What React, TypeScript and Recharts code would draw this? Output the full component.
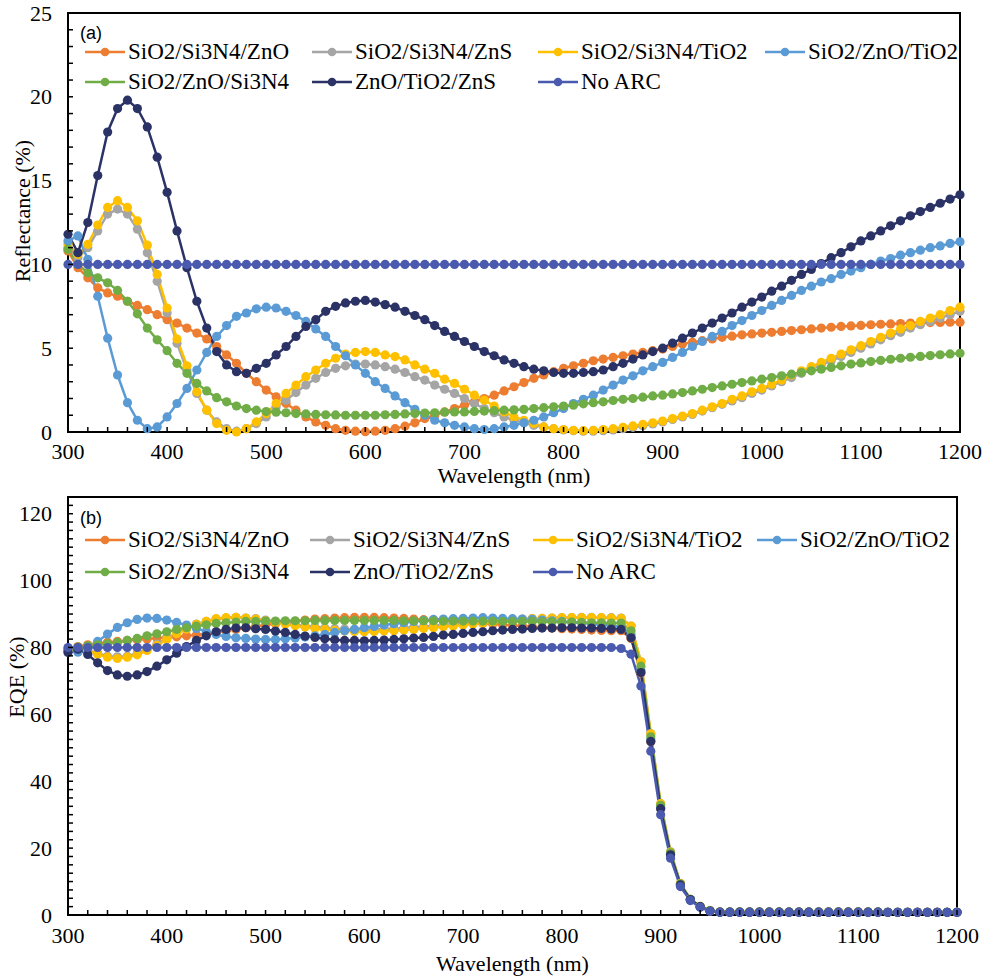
import React from "react";
import { LineChart, Line, XAxis, YAxis, Legend, ReferenceArea } from "recharts";

const wavelength = [
  300, 310, 320, 330, 340, 350, 360, 370, 380, 390,
  400, 410, 420, 430, 440, 450, 460, 470, 480, 490,
  500, 510, 520, 530, 540, 550, 560, 570, 580, 590,
  600, 610, 620, 630, 640, 650, 660, 670, 680, 690,
  700, 710, 720, 730, 740, 750, 760, 770, 780, 790,
  800, 810, 820, 830, 840, 850, 860, 870, 880, 890,
  900, 910, 920, 930, 940, 950, 960, 970, 980, 990,
  1000, 1010, 1020, 1030, 1040, 1050, 1060, 1070, 1080, 1090,
  1100, 1110, 1120, 1130, 1140, 1150, 1160, 1170, 1180, 1190,
  1200,
];

// (a) reflectance, %
const refSiO2Si3N4ZnO = [
  10.8, 9.8, 9.2, 8.6, 8.3, 8.1, 7.8, 7.55, 7.3, 7.0,
  6.7, 6.5, 6.2, 5.9, 5.55, 5.1, 4.6, 4.1, 3.5, 3.0,
  2.5, 2.1, 1.7, 1.3, 0.9, 0.6, 0.4, 0.2, 0.1, 0.05,
  0.02, 0.05, 0.1, 0.2, 0.35, 0.55, 0.8, 1.0, 1.2, 1.4,
  1.6, 1.8, 2.0, 2.2, 2.45, 2.7, 2.95, 3.2, 3.4, 3.6,
  3.8, 3.95, 4.1, 4.25, 4.35, 4.45, 4.55, 4.65, 4.75, 4.85,
  4.95, 5.1, 5.25, 5.35, 5.45, 5.55, 5.65, 5.72, 5.8, 5.85,
  5.9, 5.95, 6.0, 6.05, 6.1, 6.15, 6.2, 6.25, 6.3, 6.33,
  6.36, 6.4, 6.43, 6.45, 6.47, 6.5, 6.52, 6.53, 6.54, 6.55,
  6.55,
];
const refSiO2Si3N4ZnS = [
  11.0, 10.4, 11.0, 12.0, 13.0, 13.3, 13.0, 12.1, 10.7, 9.0,
  7.1, 5.3, 3.7, 2.3, 1.3, 0.6, 0.2, 0.05, 0.2, 0.5,
  0.9, 1.5, 1.9, 2.35, 2.8, 3.2, 3.55, 3.8, 3.95, 4.05,
  4.05, 4.0, 3.9, 3.75, 3.55, 3.3, 3.1, 2.8, 2.55, 2.3,
  2.0, 1.7, 1.4, 1.15, 0.9, 0.7, 0.55, 0.4, 0.3, 0.2,
  0.12, 0.08, 0.05, 0.05, 0.08, 0.12, 0.2, 0.28, 0.38, 0.48,
  0.6, 0.75, 0.9, 1.05, 1.25, 1.45, 1.65, 1.85, 2.05, 2.3,
  2.5, 2.75, 3.0, 3.25, 3.5, 3.75, 4.0, 4.25, 4.5, 4.75,
  5.0, 5.25, 5.5, 5.75, 5.95, 6.2, 6.4, 6.6, 6.8, 7.0,
  7.2,
];
const refSiO2Si3N4TiO2 = [
  11.2, 10.6, 11.2, 12.35, 13.4, 13.8, 13.4, 12.6, 11.15, 9.4,
  7.4, 5.55, 3.95, 2.4, 1.3, 0.5, 0.1, 0.0, 0.2, 0.6,
  1.1, 1.7, 2.3, 2.8, 3.3, 3.7, 4.1, 4.4, 4.65, 4.75,
  4.8, 4.75, 4.6, 4.5, 4.3, 4.0, 3.75, 3.5, 3.15, 2.9,
  2.55, 2.2, 1.9, 1.55, 1.2, 0.9, 0.7, 0.5, 0.3, 0.2,
  0.15, 0.1, 0.08, 0.1, 0.15, 0.2, 0.28, 0.36, 0.45, 0.55,
  0.65, 0.8, 0.95, 1.1, 1.3, 1.5, 1.7, 1.95, 2.15, 2.4,
  2.6, 2.85, 3.1, 3.4, 3.65, 3.9, 4.15, 4.4, 4.65, 4.9,
  5.15, 5.4, 5.65, 5.9, 6.15, 6.35, 6.6, 6.8, 7.0, 7.25,
  7.45,
];
const refSiO2ZnOTiO2 = [
  11.4, 11.7, 10.3, 8.1, 5.6, 3.4, 1.75, 0.7, 0.2, 0.3,
  0.9, 1.7, 2.6, 3.7, 4.75, 5.7, 6.35, 6.9, 7.1, 7.35,
  7.45, 7.4, 7.2, 6.95, 6.6, 6.15, 5.7, 5.1, 4.55, 4.0,
  3.5, 3.0, 2.6, 2.15, 1.75, 1.35, 1.0, 0.7, 0.55, 0.4,
  0.3, 0.2, 0.15, 0.2, 0.3, 0.4, 0.55, 0.7, 0.9, 1.15,
  1.4, 1.7, 1.95, 2.2, 2.5, 2.8, 3.1, 3.35, 3.65, 3.9,
  4.15, 4.45, 4.75, 5.1, 5.4, 5.7, 6.0, 6.35, 6.65, 6.95,
  7.25, 7.55, 7.85, 8.15, 8.45, 8.7, 8.95, 9.15, 9.4, 9.6,
  9.8, 10.0, 10.2, 10.35, 10.55, 10.7, 10.85, 11.0, 11.1, 11.25,
  11.35,
];
const refSiO2ZnOSi3N4 = [
  10.9, 10.0, 9.5, 9.2, 8.9, 8.45, 7.8, 7.05, 6.2, 5.5,
  4.85, 4.1, 3.5, 2.9, 2.45, 2.05, 1.8, 1.55, 1.4, 1.3,
  1.22, 1.18, 1.15, 1.1, 1.08, 1.05, 1.03, 1.02, 1.0, 1.0,
  1.0, 1.0, 1.03, 1.05, 1.08, 1.1, 1.13, 1.15, 1.18, 1.2,
  1.2, 1.23, 1.25, 1.27, 1.3, 1.32, 1.35, 1.4, 1.45, 1.5,
  1.55, 1.6, 1.68, 1.75, 1.8, 1.88, 1.95, 2.0, 2.08, 2.15,
  2.2, 2.27, 2.35, 2.45, 2.55, 2.65, 2.75, 2.85, 2.95, 3.05,
  3.15, 3.25, 3.35, 3.45, 3.55, 3.65, 3.75, 3.85, 3.95, 4.05,
  4.12, 4.2, 4.27, 4.34, 4.4, 4.46, 4.51, 4.56, 4.61, 4.66,
  4.7,
];
const refZnOTiO2ZnS = [
  11.8, 10.7, 12.5, 15.3, 17.9, 19.3, 19.8, 19.3, 18.2, 16.4,
  14.3, 12.0, 9.8, 7.8, 6.2, 4.8, 4.0, 3.6, 3.5, 3.8,
  4.1, 4.6, 5.1, 5.7, 6.3, 6.7, 7.2, 7.5, 7.7, 7.8,
  7.85, 7.75, 7.6, 7.45, 7.2, 6.95, 6.7, 6.35, 6.0, 5.7,
  5.4, 5.1, 4.8, 4.55, 4.3, 4.1, 3.9, 3.75, 3.65, 3.55,
  3.5, 3.5, 3.55, 3.6, 3.7, 3.9, 4.1, 4.35, 4.6, 4.8,
  5.0, 5.3, 5.6, 5.9, 6.2, 6.5, 6.8, 7.1, 7.45, 7.75,
  8.05, 8.4, 8.7, 9.05, 9.4, 9.7, 10.05, 10.4, 10.7, 11.05,
  11.4, 11.7, 12.0, 12.3, 12.6, 12.9, 13.15, 13.4, 13.65, 13.9,
  14.15,
];
const refNoArc = [
  10, 10, 10, 10, 10, 10, 10, 10, 10, 10,
  10, 10, 10, 10, 10, 10, 10, 10, 10, 10,
  10, 10, 10, 10, 10, 10, 10, 10, 10, 10,
  10, 10, 10, 10, 10, 10, 10, 10, 10, 10,
  10, 10, 10, 10, 10, 10, 10, 10, 10, 10,
  10, 10, 10, 10, 10, 10, 10, 10, 10, 10,
  10, 10, 10, 10, 10, 10, 10, 10, 10, 10,
  10, 10, 10, 10, 10, 10, 10, 10, 10, 10,
  10, 10, 10, 10, 10, 10, 10, 10, 10, 10,
  10,
];

// (b) EQE, %
const eqeSiO2Si3N4ZnO = [
  79.4, 80.3, 80.8, 81.3, 81.6, 81.8, 82.1, 82.3, 82.5, 82.8,
  83.0, 83.2, 83.5, 83.7, 84.1, 84.5, 84.9, 85.4, 85.9, 86.3,
  86.8, 87.1, 87.5, 87.8, 88.2, 88.5, 88.6, 88.8, 88.9, 89.0,
  89.0, 89.0, 88.9, 88.8, 88.7, 88.5, 88.3, 88.1, 87.9, 87.8,
  87.6, 87.4, 87.2, 87.0, 86.8, 86.6, 86.4, 86.2, 86.0, 85.8,
  85.6, 85.5, 85.4, 85.2, 85.1, 85.0, 85.0, 82.7, 72.4, 51.9,
  31.8, 18.0, 9.0, 4.5, 2.5, 1.2, 0.9, 0.9, 0.9, 0.9,
  0.9, 0.9, 0.9, 0.9, 0.9, 0.9, 0.9, 0.9, 0.9, 0.9,
  0.9, 0.9, 0.9, 0.8, 0.8, 0.8, 0.8, 0.8, 0.8, 0.8,
  0.8,
];
const eqeSiO2Si3N4ZnS = [
  79.2, 79.7, 79.2, 78.3, 77.4, 77.2, 77.4, 78.2, 79.5, 81.0,
  82.7, 84.3, 85.7, 87.0, 87.8, 88.5, 88.8, 89.0, 88.8, 88.6,
  88.2, 87.7, 87.3, 86.9, 86.5, 86.2, 85.8, 85.6, 85.5, 85.4,
  85.4, 85.4, 85.5, 85.7, 85.8, 86.1, 86.2, 86.5, 86.7, 87.0,
  87.2, 87.5, 87.8, 88.0, 88.2, 88.4, 88.5, 88.6, 88.7, 88.8,
  88.9, 88.9, 89.0, 89.0, 88.9, 88.9, 88.8, 86.4, 75.7, 54.2,
  33.3, 18.9, 9.4, 4.7, 2.6, 1.3, 0.9, 0.9, 0.9, 0.9,
  0.9, 0.9, 0.9, 0.9, 0.9, 0.9, 0.9, 0.9, 0.9, 0.9,
  0.9, 0.9, 0.9, 0.8, 0.8, 0.8, 0.8, 0.8, 0.8, 0.8,
  0.8,
];
const eqeSiO2Si3N4TiO2 = [
  79.0, 79.6, 79.0, 78.0, 77.1, 76.7, 77.1, 77.8, 79.1, 80.6,
  82.4, 84.1, 85.5, 86.9, 87.8, 88.6, 88.9, 89.0, 88.8, 88.5,
  88.0, 87.5, 87.0, 86.5, 86.1, 85.7, 85.4, 85.1, 84.9, 84.8,
  84.7, 84.8, 84.9, 85.0, 85.2, 85.4, 85.7, 85.9, 86.2, 86.4,
  86.7, 87.0, 87.3, 87.6, 87.9, 88.2, 88.4, 88.6, 88.7, 88.8,
  88.9, 88.9, 88.9, 88.9, 88.9, 88.8, 88.7, 86.4, 75.7, 54.2,
  33.3, 18.8, 9.4, 4.7, 2.6, 1.3, 0.9, 0.9, 0.9, 0.9,
  0.9, 0.9, 0.9, 0.9, 0.9, 0.9, 0.9, 0.9, 0.9, 0.9,
  0.9, 0.9, 0.9, 0.8, 0.8, 0.8, 0.8, 0.8, 0.8, 0.8,
  0.8,
];
const eqeSiO2ZnOTiO2 = [
  78.9, 78.6, 79.8, 81.8, 84.0, 86.0, 87.4, 88.4, 88.8, 88.7,
  88.2, 87.5, 86.7, 85.7, 84.8, 83.9, 83.3, 82.9, 82.7, 82.5,
  82.4, 82.4, 82.6, 82.8, 83.1, 83.5, 83.9, 84.5, 85.0, 85.4,
  85.9, 86.3, 86.7, 87.1, 87.4, 87.8, 88.1, 88.4, 88.5, 88.6,
  88.7, 88.8, 88.9, 88.8, 88.7, 88.6, 88.5, 88.4, 88.2, 88.0,
  87.8, 87.5, 87.3, 87.0, 86.8, 86.5, 86.2, 83.8, 73.2, 52.4,
  32.1, 18.2, 9.0, 4.6, 2.5, 1.2, 0.85, 0.85, 0.85, 0.85,
  0.85, 0.85, 0.85, 0.85, 0.85, 0.85, 0.85, 0.85, 0.85, 0.85,
  0.85, 0.85, 0.85, 0.8, 0.8, 0.8, 0.8, 0.8, 0.8, 0.8,
  0.8,
];
const eqeSiO2ZnOSi3N4 = [
  79.3, 80.1, 80.5, 80.8, 81.1, 81.5, 82.1, 82.7, 83.5, 84.1,
  84.7, 85.4, 85.9, 86.4, 86.8, 87.2, 87.4, 87.6, 87.8, 87.8,
  87.9, 87.9, 88.0, 88.0, 88.0, 88.1, 88.1, 88.1, 88.1, 88.1,
  88.1, 88.1, 88.1, 88.1, 88.0, 88.0, 88.0, 88.0, 87.9, 87.9,
  87.9, 87.9, 87.9, 87.9, 87.8, 87.8, 87.8, 87.8, 87.7, 87.7,
  87.6, 87.6, 87.5, 87.4, 87.4, 87.3, 87.3, 85.0, 74.4, 53.3,
  32.8, 18.6, 9.3, 4.7, 2.5, 1.3, 0.9, 0.9, 0.9, 0.9,
  0.9, 0.9, 0.9, 0.9, 0.9, 0.9, 0.9, 0.9, 0.9, 0.9,
  0.9, 0.9, 0.9, 0.8, 0.8, 0.8, 0.8, 0.8, 0.8, 0.8,
  0.8,
];
const eqeZnOTiO2ZnS = [
  78.5, 79.5, 77.9, 75.4, 73.1, 71.8, 71.4, 71.8, 72.8, 74.4,
  76.3, 78.3, 80.3, 82.1, 83.5, 84.7, 85.4, 85.8, 85.9, 85.6,
  85.4, 84.9, 84.5, 83.9, 83.4, 83.0, 82.6, 82.3, 82.1, 82.1,
  82.0, 82.1, 82.2, 82.4, 82.6, 82.8, 83.0, 83.3, 83.7, 83.9,
  84.2, 84.5, 84.7, 85.0, 85.2, 85.4, 85.5, 85.7, 85.8, 85.8,
  85.9, 85.9, 85.8, 85.8, 85.7, 85.5, 85.4, 82.9, 72.5, 51.9,
  31.8, 18.0, 9.0, 4.6, 2.5, 1.2, 0.85, 0.85, 0.85, 0.85,
  0.85, 0.85, 0.85, 0.85, 0.85, 0.85, 0.85, 0.85, 0.85, 0.85,
  0.85, 0.85, 0.85, 0.8, 0.8, 0.8, 0.8, 0.8, 0.8, 0.8,
  0.8,
];
const eqeNoArc = [
  80, 80, 80, 80, 80, 80, 80, 80, 80, 80,
  80, 80, 80, 80, 80, 80, 80, 80, 80, 80,
  80, 80, 80, 80, 80, 80, 80, 80, 80, 80,
  80, 80, 80, 80, 80, 80, 80, 80, 80, 80,
  80, 80, 80, 80, 80, 80, 80, 80, 80, 80,
  80, 80, 80, 80, 80, 80, 79.7, 78.0, 68.5, 49.0,
  30.0, 17.0, 8.5, 4.3, 2.3, 1.1, 0.8, 0.8, 0.8, 0.8,
  0.8, 0.8, 0.8, 0.8, 0.8, 0.8, 0.8, 0.8, 0.8, 0.8,
  0.8, 0.8, 0.8, 0.8, 0.8, 0.8, 0.8, 0.8, 0.8, 0.8,
  0.8,
];

const seriesNames = [
  "SiO2/Si3N4/ZnO",
  "SiO2/Si3N4/ZnS",
  "SiO2/Si3N4/TiO2",
  "SiO2/ZnO/TiO2",
  "SiO2/ZnO/Si3N4",
  "ZnO/TiO2/ZnS",
  "No ARC",
];
const seriesColors = ["#ED7D31", "#A5A5A5", "#FFC000", "#5B9BD5", "#70AD47", "#2B3266", "#4A5AAE"];
const seriesKeys = ["s1", "s2", "s3", "s4", "s5", "s6", "s7"];

const xLabels = [300, 400, 500, 600, 700, 800, 900, 1000, 1100, 1200];
const refLabels = [0, 5, 10, 15, 20, 25];
const eqeLabels = [0, 20, 40, 60, 80, 100, 120];

const xTicks = Array.from({ length: 46 }, (_, i) => 300 + i * 20);
const refTicks = Array.from({ length: 26 }, (_, i) => i);
const eqeTicks = Array.from({ length: 51 }, (_, i) => i * 2.5);

const refRows = wavelength.map((w, i) => {
  const row: any = { w };
  [refSiO2Si3N4ZnO, refSiO2Si3N4ZnS, refSiO2Si3N4TiO2, refSiO2ZnOTiO2, refSiO2ZnOSi3N4, refZnOTiO2ZnS, refNoArc].forEach(
    (s, k) => (row[seriesKeys[k]] = s[i])
  );
  return row;
});
const eqeRows = wavelength.map((w, i) => {
  const row: any = { w };
  [eqeSiO2Si3N4ZnO, eqeSiO2Si3N4ZnS, eqeSiO2Si3N4TiO2, eqeSiO2ZnOTiO2, eqeSiO2ZnOSi3N4, eqeZnOTiO2ZnS, eqeNoArc].forEach(
    (s, k) => (row[seriesKeys[k]] = s[i])
  );
  return row;
});

const SERIF = '"Liberation Serif", "Times New Roman", serif';
const FS = 22;

function Panel(props: any) {
  const { rows, height, margin, xHeight, yMax, yTicks, yLabels, yTitle, yTitleY, yTitleX, xTickDy, xTitleDy, tag, tagY, legendCols, legendRows } = props;

  const xTick = (t: any) => {
    const v = t.payload.value;
    return (
      <g>
        <line x1={t.x} y1={t.y} x2={t.x} y2={t.y - 5} stroke="#000" strokeWidth={1.5} />
        {xLabels.includes(v) && (
          <text x={t.x} y={t.y + xTickDy} textAnchor="middle" dominantBaseline="central" fontFamily={SERIF} fontSize={FS} fill="#000">
            {v}
          </text>
        )}
      </g>
    );
  };
  const yTick = (t: any) => {
    const v = t.payload.value;
    return (
      <g>
        <line x1={t.x} y1={t.y} x2={t.x + 5} y2={t.y} stroke="#000" strokeWidth={1.5} />
        {yLabels.includes(v) && (
          <text x={t.x - 16} y={t.y} textAnchor="end" dominantBaseline="central" fontFamily={SERIF} fontSize={FS} fill="#000">
            {v}
          </text>
        )}
      </g>
    );
  };

  const legend = () => (
    <div style={{ position: "relative", width: 993, height: 100, fontFamily: SERIF, color: "#000" }}>
      <div style={{ position: "absolute", left: 80, top: tagY - 11, fontFamily: '"Liberation Sans", Arial, sans-serif', fontSize: 18, lineHeight: "22px" }}>
        {tag}
      </div>
      {seriesNames.map((name, i) => {
        const r = i < 4 ? 0 : 1;
        const c = i < 4 ? i : i - 4;
        return (
          <div
            key={name}
            style={{ position: "absolute", left: legendCols[c], top: legendRows[r] - 15, height: 30, display: "flex", alignItems: "center", whiteSpace: "nowrap" }}
          >
            <svg width={40} height={12} style={{ display: "block" }}>
              <line x1={0} y1={6} x2={40} y2={6} stroke={seriesColors[i]} strokeWidth={2.5} />
              <circle cx={20} cy={6} r={4.3} fill={seriesColors[i]} />
            </svg>
            <span style={{ marginLeft: 3, fontSize: 23, lineHeight: "30px" }}>{name}</span>
          </div>
        );
      })}
    </div>
  );

  return (
    <LineChart width={993} height={height} data={rows} margin={margin}>
      <ReferenceArea x1={300} x2={1200} y1={0} y2={yMax} fill="none" stroke="#000" strokeWidth={2} />
      <XAxis
        dataKey="w"
        type="number"
        domain={[300, 1200]}
        ticks={xTicks}
        interval={0}
        tickSize={0}
        tickMargin={0}
        tickLine={false}
        height={xHeight}
        axisLine={{ stroke: "#000", strokeWidth: 2 }}
        tick={xTick}
        label={(p: any) => {
          const vb = p.viewBox;
          return (
            <text x={vb.x + vb.width / 2} y={vb.y + xTitleDy} textAnchor="middle" dominantBaseline="central" fontFamily={SERIF} fontSize={FS} fill="#000">
              Wavelength (nm)
            </text>
          );
        }}
      />
      <YAxis
        type="number"
        domain={[0, yMax]}
        ticks={yTicks}
        interval={0}
        width={60}
        tickSize={0}
        tickMargin={0}
        tickLine={false}
        axisLine={{ stroke: "#000", strokeWidth: 2 }}
        tick={yTick}
        label={() => (
          <text
            x={yTitleX}
            y={yTitleY}
            transform={`rotate(-90 ${yTitleX} ${yTitleY})`}
            textAnchor="middle"
            dominantBaseline="central"
            fontFamily={SERIF}
            fontSize={FS}
            fill="#000"
          >
            {yTitle}
          </text>
        )}
      />
      <Legend layout="horizontal" verticalAlign="middle" align="center" content={legend} wrapperStyle={{ left: 0, top: 0, width: 993, height: 100 }} />
      {seriesKeys.map((k, i) => (
        <Line
          key={k}
          dataKey={k}
          name={seriesNames[i]}
          type="linear"
          stroke={seriesColors[i]}
          strokeWidth={2.5}
          dot={{ r: 4.6, fill: seriesColors[i], stroke: seriesColors[i], strokeWidth: 0 }}
          activeDot={false}
          isAnimationActive={false}
        />
      ))}
    </LineChart>
  );
}

export default function App() {
  return (
    <div style={{ position: "absolute", left: 0, top: 0, width: 993, height: 979, background: "#fff" }}>
      <div style={{ position: "absolute", left: 0, top: 0 }}>
        <Panel
          rows={refRows}
          height={490}
          margin={{ top: 13, right: 33, bottom: 18, left: 8 }}
          xHeight={40}
          yMax={25}
          yTicks={refTicks}
          yLabels={refLabels}
          yTitle="Reflectance (%)"
          yTitleX={22}
          yTitleY={211}
          xTickDy={19}
          xTitleDy={43}
          tag="(a)"
          tagY={33}
          legendCols={[85, 312, 538, 765]}
          legendRows={[52, 82]}
        />
      </div>
      <div style={{ position: "absolute", left: 0, top: 490 }}>
        <Panel
          rows={eqeRows}
          height={489}
          margin={{ top: 7, right: 36, bottom: 14, left: 8 }}
          xHeight={50}
          yMax={125}
          yTicks={eqeTicks}
          yLabels={eqeLabels}
          yTitle="EQE (%)"
          yTitleX={16}
          yTitleY={187}
          xTickDy={20}
          xTitleDy={48}
          tag="(b)"
          tagY={28}
          legendCols={[85, 310, 533, 757]}
          legendRows={[50, 82]}
        />
      </div>
    </div>
  );
}
